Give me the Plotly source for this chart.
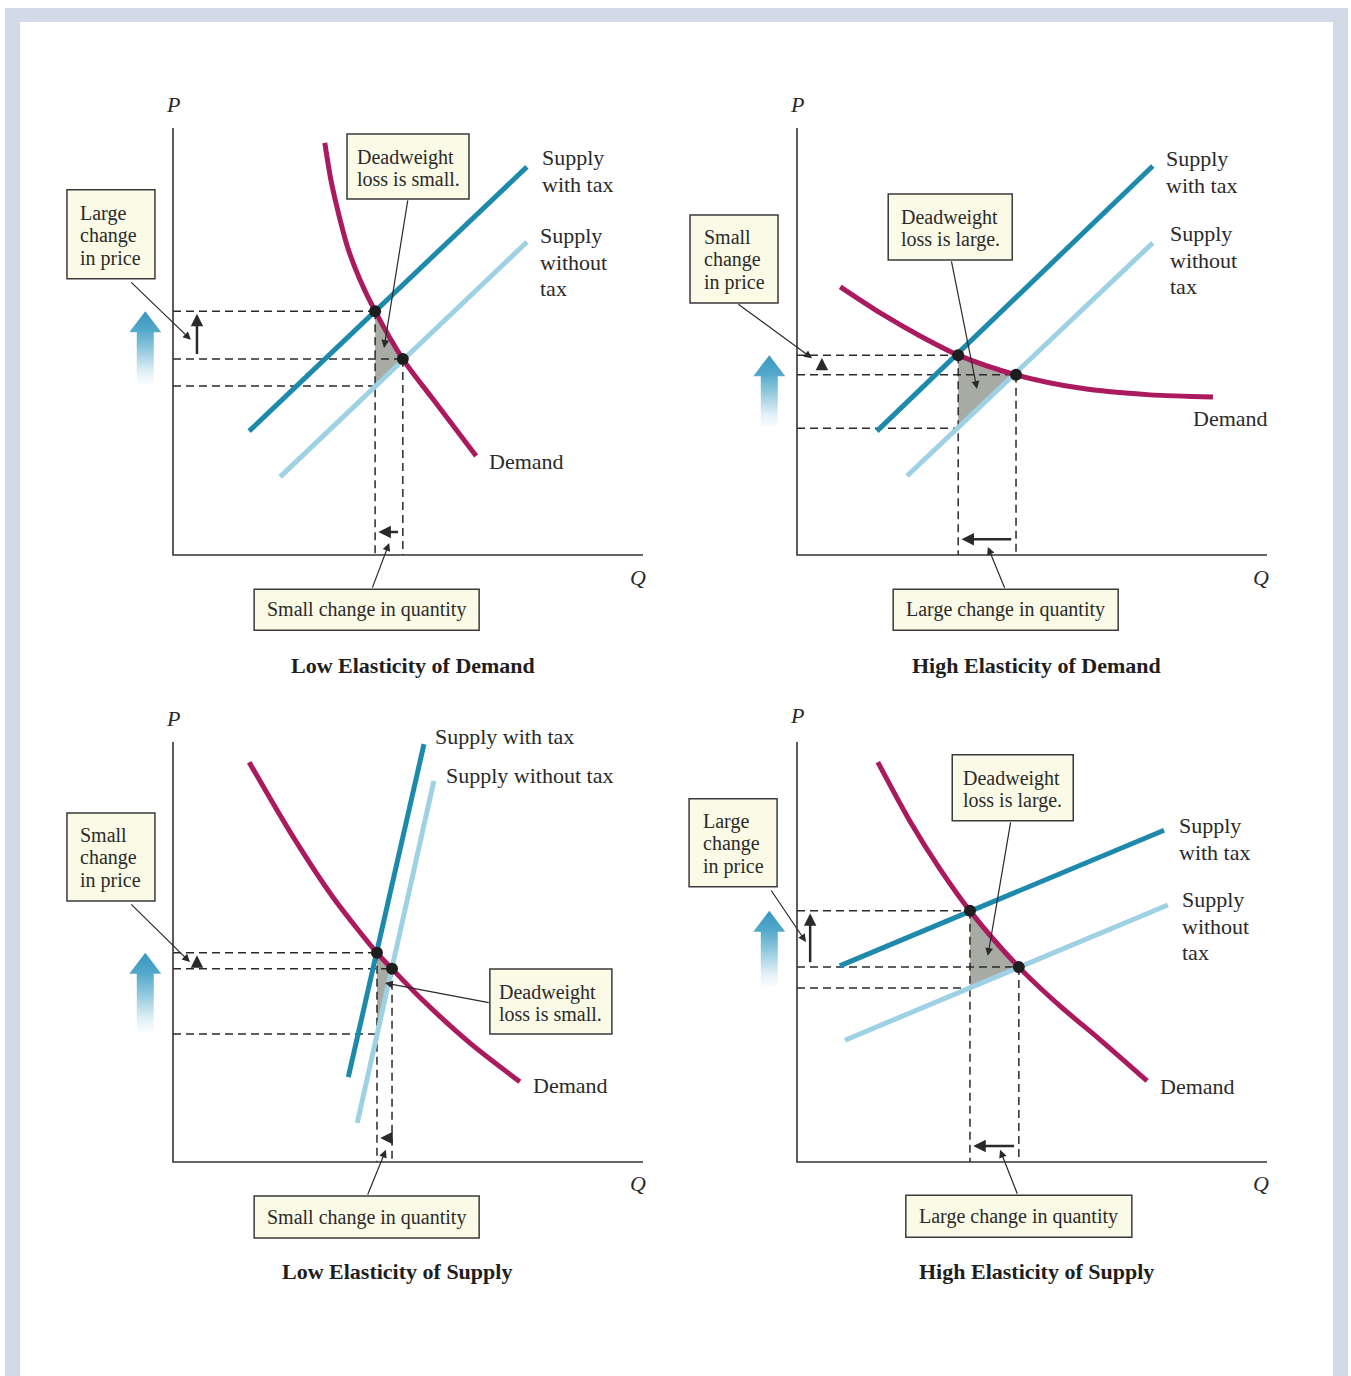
import plotly.graph_objects as go

# ---------------------------------------------------------------------------
# Data: four tax-incidence panels (quantity / price in arbitrary units)
# ---------------------------------------------------------------------------
TITLES = ["Low Elasticity of Demand", "High Elasticity of Demand",
          "Low Elasticity of Supply", "High Elasticity of Supply"]

demand_q_low_ed = [3.23, 3.36, 3.53, 3.72, 3.98, 4.30, 4.89, 5.51, 6.45]
demand_p_low_ed = [9.65, 8.78, 7.96, 7.19, 6.44, 5.71, 4.59, 3.68, 2.32]
demand_q_high_ed = [0.92, 1.77, 2.62, 3.43, 4.66, 6.02, 7.51, 8.85]
demand_p_high_ed = [6.28, 5.67, 5.13, 4.68, 4.22, 3.91, 3.75, 3.70]
demand_q_low_es = [1.62, 2.49, 3.40, 4.34, 4.66, 5.26, 6.32, 7.38]
demand_p_low_es = [9.52, 7.86, 6.31, 4.98, 4.60, 3.91, 2.83, 1.91]
demand_q_high_es = [1.72, 2.40, 3.04, 3.68, 4.72, 5.60, 6.45, 7.45]
demand_p_high_es = [9.52, 8.12, 6.98, 5.98, 4.64, 3.71, 2.91, 1.93]

DEMAND_Q = [demand_q_low_ed, demand_q_high_ed, demand_q_low_es, demand_q_high_es]
DEMAND_P = [demand_p_low_ed, demand_p_high_ed, demand_p_low_es, demand_p_high_es]

supply_tax_q = [[1.62, 7.53], [1.70, 7.57], [3.73, 5.34], [0.91, 7.81]]
supply_tax_p = [[2.90, 9.09], [2.90, 9.11], [2.02, 9.95], [4.67, 7.90]]
supply_q = [[2.28, 7.53], [2.34, 7.57], [3.92, 5.55], [1.02, 7.89]]
supply_p = [[1.83, 7.33], [1.85, 7.31], [0.93, 9.07], [2.90, 6.12]]

# equilibrium with tax (quantity, price buyers pay, price sellers get)
Q_TAX = [4.30, 3.43, 4.34, 3.68]
P_BUYERS = [5.71, 4.68, 4.98, 5.98]
P_SELLERS = [3.96, 2.97, 3.05, 4.14]
# equilibrium without tax
Q_FREE = [4.89, 4.66, 4.66, 4.72]
P_FREE = [4.59, 4.22, 4.60, 4.64]

PRICE_BOX_TEXT = [["Large", "change", "in price"], ["Small", "change", "in price"],
                  ["Small", "change", "in price"], ["Large", "change", "in price"]]
DWL_BOX_TEXT = [["Deadweight", "loss is small."], ["Deadweight", "loss is large."],
                ["Deadweight", "loss is small."], ["Deadweight", "loss is large."]]
QTY_BOX_TEXT = ["Small change in quantity", "Large change in quantity",
                "Small change in quantity", "Large change in quantity"]
SUPPLY_TAX_TEXT = [["Supply", "with tax"], ["Supply", "with tax"],
                   ["Supply with tax"], ["Supply", "with tax"]]
SUPPLY_TEXT = [["Supply", "without", "tax"], ["Supply", "without", "tax"],
               ["Supply without tax"], ["Supply", "without", "tax"]]

# ---------------------------------------------------------------------------
# Layout geometry
# ---------------------------------------------------------------------------
FIG_W, FIG_H = 1351, 1376
PX_Q = 47.0                              # pixels per quantity unit
PX_P = [42.7, 42.7, 42.0, 42.0]          # pixels per price unit
ORIGINS = [(173, 555), (797, 555), (173, 1162), (797, 1162)]
CELLS = [(20, 60, 675, 688), (675, 60, 1335, 688),
         (20, 688, 675, 1330), (675, 688, 1335, 1330)]
AXIS_LEN = 10.0

# annotation placement in axis units
PRICE_BOX = [(-1.32, 7.51, 88, 89), (-1.34, 6.93, 88, 88), (-1.32, 7.26, 88, 88), (-1.36, 7.60, 88, 88)]
DWL_BOX = [(5.00, 9.10, 122, 65), (3.26, 7.68, 124, 66), (8.04, 3.82, 122, 65), (4.59, 8.91, 121, 66)]
QTY_BOX = [(4.12, -1.28, 225, 41), (4.44, -1.28, 225, 41), (4.12, -1.31, 225, 42), (4.72, -1.29, 226, 42)]
PRICE_LEADER = [((-0.92, 6.42), (0.38, 5.04)), ((-1.28, 5.90), (0.32, 4.61)),
                ((-0.92, 6.17), (0.36, 4.76)), ((-0.57, 6.50), (0.19, 5.24))]
DWL_LEADER = [((5.00, 8.34), (4.49, 4.85)), ((3.28, 6.91), (3.83, 3.89)),
              ((6.75, 3.79), (4.51, 4.26)), ((4.55, 8.12), (4.06, 4.91))]
QTY_LEADER = [((4.23, -0.80), (4.60, 0.28)), ((4.43, -0.80), (4.06, 0.19)),
              ((4.13, -0.81), (4.53, 0.29)), ((4.70, -0.79), (4.32, 0.29))]
SUPPLY_TAX_POS = [(7.81, 8.99), (7.81, 8.97), (5.53, 10.14), (8.09, 7.70)]
SUPPLY_POS = [(7.77, 6.86), (7.89, 6.90), (5.77, 9.21), (8.15, 5.61)]
DEMAND_POS = [(6.68, 2.20), (8.38, 3.19), (7.62, 1.81), (7.68, 1.79)]
P_POS = [(0.0, 10.56), (0.0, 10.56), (0.0, 10.57), (0.0, 10.62)]
Q_POS = [(9.89, -0.52), (9.87, -0.52), (9.89, -0.50), (9.87, -0.50)]
TITLE_POS = [(5.11, -2.58), (5.09, -2.58), (4.77, -2.60), (5.09, -2.60)]
PRICE_ARROW_X = [0.51, 0.53, 0.51, 0.28]
QTY_ARROW_Y = [0.54, 0.37, 0.57, 0.38]
BIG_ARROW_X = -0.59

# colours
DEMAND_COLOR = "#ab1a5e"
TAX_COLOR = "#1e8aab"
FREE_COLOR = "#9fd1e5"
INK = "#2a2a2a"
BOX_FILL = "#fafae6"
DWL_FILL = "#a8aaa4"
FRAME = "#d2dae7"
FONT = "Liberation Serif"


def stacked(lines, glyph):
    """Multi-line text where each line is rendered at `glyph` px."""
    return "<br>".join(f"<span style='font-size:{glyph}px'>{t}</span>" for t in lines)


fig = go.Figure()
annotations = []
shapes = []

for i in range(4):
    s = "" if i == 0 else str(i + 1)
    xr, yr = "x" + s, "y" + s
    ox, oy = ORIGINS[i]
    sy = PX_P[i]
    cx0, cy0, cx1, cy1 = CELLS[i]
    fig.layout["xaxis" + s] = dict(domain=[cx0 / FIG_W, cx1 / FIG_W],
                                   range=[(cx0 - ox) / PX_Q, (cx1 - ox) / PX_Q],
                                   visible=False, fixedrange=True, anchor=yr)
    fig.layout["yaxis" + s] = dict(domain=[1 - cy1 / FIG_H, 1 - cy0 / FIG_H],
                                   range=[(oy - cy1) / sy, (oy - cy0) / sy],
                                   visible=False, fixedrange=True, anchor=xr)

    qt, pb, ps, q0, p0 = Q_TAX[i], P_BUYERS[i], P_SELLERS[i], Q_FREE[i], P_FREE[i]
    common = dict(xaxis=xr, yaxis=yr, showlegend=False, hoverinfo="skip")

    # tax wedge arrow with vertical fade
    hw, sw, hh = 16 / PX_Q, 8.5 / PX_Q, 21 / sy
    c = BIG_ARROW_X
    fig.add_trace(go.Scatter(
        x=[c - sw, c - sw, c - hw, c, c + hw, c + sw, c + sw, c - sw],
        y=[ps, pb - hh, pb - hh, pb, pb - hh, pb - hh, ps, ps],
        mode="none", fill="toself",
        fillgradient=dict(type="vertical", start=ps, stop=pb,
                          colorscale=[[0, "#ffffff"], [0.18, "#e3f1f7"], [0.5, "#8fc7dd"],
                                      [0.75, "#52a8ca"], [1, "#3896bf"]]),
        **common))

    # deadweight loss triangle
    fig.add_trace(go.Scatter(x=[qt, q0, qt, qt], y=[pb, p0, ps, pb], mode="lines",
                             fill="toself", fillcolor=DWL_FILL, line=dict(width=0), **common))

    # dashed guides
    fig.add_trace(go.Scatter(
        x=[0, qt, None, 0, q0, None, 0, qt, None, qt, qt, None, q0, q0],
        y=[pb, pb, None, p0, p0, None, ps, ps, None, pb, 0, None, p0, 0],
        mode="lines", line=dict(color=INK, width=1.5, dash="8px,5px"), **common))

    # axes
    fig.add_trace(go.Scatter(x=[0, 0, AXIS_LEN], y=[AXIS_LEN, 0, 0], mode="lines",
                             line=dict(color="#333333", width=1.6), **common))

    # supply curves and demand
    fig.add_trace(go.Scatter(x=supply_q[i], y=supply_p[i], mode="lines",
                             line=dict(color=FREE_COLOR, width=5), **common))
    fig.add_trace(go.Scatter(x=supply_tax_q[i], y=supply_tax_p[i], mode="lines",
                             line=dict(color=TAX_COLOR, width=5), **common))
    fig.add_trace(go.Scatter(x=DEMAND_Q[i], y=DEMAND_P[i], mode="lines",
                             line=dict(color=DEMAND_COLOR, width=5, shape="spline", smoothing=0.8),
                             **common))

    # equilibrium points
    fig.add_trace(go.Scatter(x=[qt, q0], y=[pb, p0], mode="markers",
                             marker=dict(color="#1e1e1e", size=12), **common))

    # small change arrows (price on the P axis, quantity on the Q axis)
    annotations.append(dict(xref=xr, yref=yr, axref=xr, ayref=yr,
                            x=PRICE_ARROW_X[i], y=pb - 0.06, ax=PRICE_ARROW_X[i], ay=p0 + 0.08,
                            text="", showarrow=True, arrowhead=2, arrowsize=1,
                            arrowwidth=2.5, arrowcolor=INK))
    annotations.append(dict(xref=xr, yref=yr, axref=xr, ayref=yr,
                            x=qt + 0.07, y=QTY_ARROW_Y[i], ax=q0 - 0.07, ay=QTY_ARROW_Y[i],
                            text="", showarrow=True, arrowhead=2, arrowsize=1,
                            arrowwidth=2.5, arrowcolor=INK))

    # callout boxes
    for (bx, by, bw, bh) in (PRICE_BOX[i], DWL_BOX[i], QTY_BOX[i]):
        shapes.append(dict(type="rect", xref=xr, yref=yr,
                           x0=bx - bw / 2 / PX_Q, x1=bx + bw / 2 / PX_Q,
                           y0=by - bh / 2 / sy, y1=by + bh / 2 / sy,
                           fillcolor=BOX_FILL, line=dict(color="#3a3a3a", width=1.5),
                           layer="above"))
    for (bx, by, _, _), lines in ((PRICE_BOX[i], PRICE_BOX_TEXT[i]), (DWL_BOX[i], DWL_BOX_TEXT[i])):
        annotations.append(dict(xref=xr, yref=yr, x=bx, y=by - 0.03, text=stacked(lines, 20),
                                showarrow=False, align="left", xanchor="center", yanchor="middle",
                                font=dict(size=17.3, family=FONT, color=INK)))
    annotations.append(dict(xref=xr, yref=yr, x=QTY_BOX[i][0], y=QTY_BOX[i][1],
                            text=QTY_BOX_TEXT[i], showarrow=False,
                            xanchor="center", yanchor="middle",
                            font=dict(size=20, family=FONT, color=INK)))

    # leader lines from boxes
    for (start, tip) in (PRICE_LEADER[i], DWL_LEADER[i], QTY_LEADER[i]):
        annotations.append(dict(xref=xr, yref=yr, axref=xr, ayref=yr,
                                x=tip[0], y=tip[1], ax=start[0], ay=start[1],
                                text="", showarrow=True, arrowhead=2, arrowsize=1.3,
                                arrowwidth=1.2, arrowcolor=INK))

    # curve labels
    for lines, (lx, ly) in ((SUPPLY_TAX_TEXT[i], SUPPLY_TAX_POS[i]), (SUPPLY_TEXT[i], SUPPLY_POS[i])):
        annotations.append(dict(xref=xr, yref=yr, x=lx, y=ly, text=stacked(lines, 22),
                                showarrow=False, align="left", xanchor="left", yanchor="middle",
                                font=dict(size=20.4, family=FONT, color=INK)))
    annotations.append(dict(xref=xr, yref=yr, x=DEMAND_POS[i][0], y=DEMAND_POS[i][1],
                            text="Demand", showarrow=False, xanchor="left", yanchor="middle",
                            font=dict(size=22, family=FONT, color=INK)))

    # axis letters and panel title
    annotations.append(dict(xref=xr, yref=yr, x=P_POS[i][0], y=P_POS[i][1], text="<i>P</i>",
                            showarrow=False, xanchor="center", yanchor="middle",
                            font=dict(size=22, family=FONT, color=INK)))
    annotations.append(dict(xref=xr, yref=yr, x=Q_POS[i][0], y=Q_POS[i][1], text="<i>Q</i>",
                            showarrow=False, xanchor="center", yanchor="middle",
                            font=dict(size=22, family=FONT, color=INK)))
    annotations.append(dict(xref=xr, yref=yr, x=TITLE_POS[i][0], y=TITLE_POS[i][1],
                            text=f"<b>{TITLES[i]}</b>", showarrow=False,
                            xanchor="center", yanchor="middle",
                            font=dict(size=22, family=FONT, color="#1e1e1e")))

# page frame
for (x0, y0, x1, y1) in ((5, 8, 20, FIG_H), (5, 8, 1348, 22), (1333, 8, 1348, FIG_H)):
    shapes.append(dict(type="rect", xref="paper", yref="paper",
                       x0=x0 / FIG_W, x1=x1 / FIG_W, y0=1 - y1 / FIG_H, y1=1 - y0 / FIG_H,
                       fillcolor=FRAME, line=dict(width=0), layer="below"))

fig.update_layout(width=FIG_W, height=FIG_H, margin=dict(l=0, r=0, t=0, b=0),
                  paper_bgcolor="white", plot_bgcolor="rgba(0,0,0,0)",
                  showlegend=False, annotations=annotations, shapes=shapes,
                  font=dict(family=FONT, color=INK))

fig.write_html("out.html")
